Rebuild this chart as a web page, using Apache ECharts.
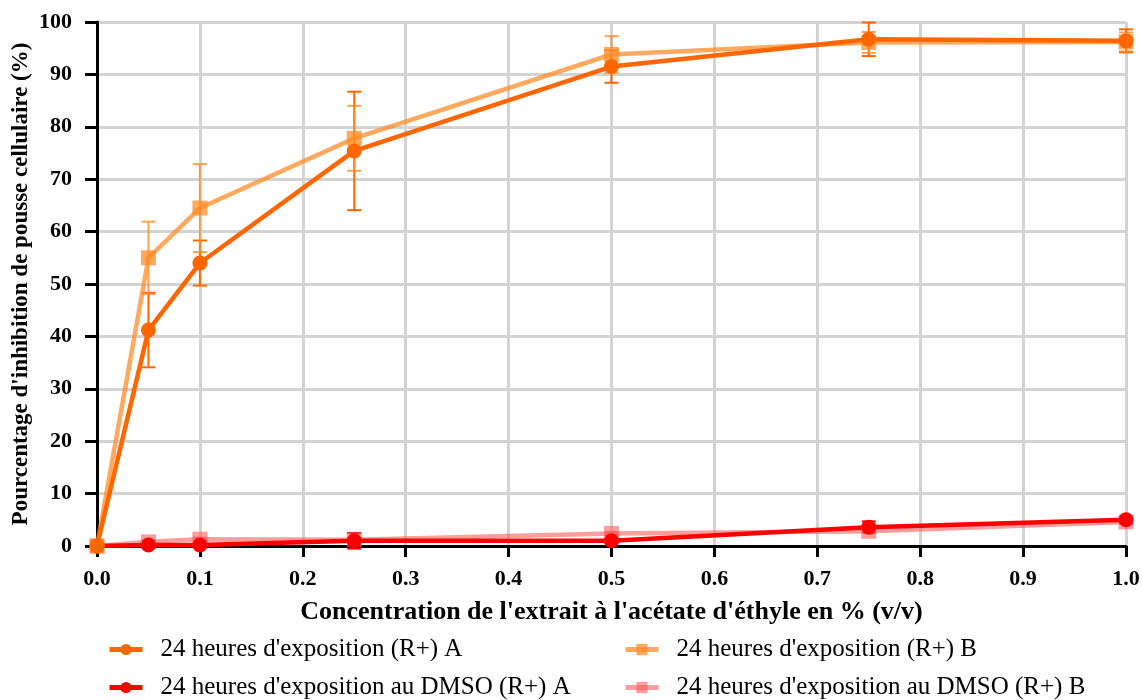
<!DOCTYPE html>
<html><head><meta charset="utf-8">
<script src="https://cdn.jsdelivr.net/npm/echarts@6/dist/echarts.min.js"></script>
<style>html,body{margin:0;padding:0;background:#fff}#c{width:1142px;height:700px}</style>
</head><body><div id="c"></div>
<script>
const xValues = [0, 0.05, 0.1, 0.25, 0.5, 0.75, 1.0];
const seriesNames = ["24 heures d'exposition (R+) A", "24 heures d'exposition (R+) B", "24 heures d'exposition au DMSO (R+) A", "24 heures d'exposition au DMSO (R+) B"];
const expA = [0, 41.2, 54.0, 75.4, 91.5, 96.7, 96.4];
const expAErr = [0, 7.1, 4.3, 11.3, 3.1, 3.2, 2.2];
const expB = [0, 55.0, 64.5, 77.8, 93.8, 96.1, 96.2];
const expBErr = [0, 6.9, 8.4, 6.2, 3.5, 2.0, 1.8];
const dmsoA = [0, 0.2, 0.2, 1.0, 1.0, 3.6, 5.0];
const dmsoAErr = [0, 0.3, 0.3, 1.5, 0.4, 1.1, 0.4];
const dmsoB = [0, 0.8, 1.3, 1.2, 2.4, 2.8, 4.6];
const dmsoBErr = [0, 0.3, 0.3, 0.3, 0.3, 0.3, 0.3];
const xTicks = [0, 0.1, 0.2, 0.3, 0.4, 0.5, 0.6, 0.7, 0.8, 0.9, 1.0];
const yTicks = [0, 10, 20, 30, 40, 50, 60, 70, 80, 90, 100];

const colors = ['#FF6600', 'rgba(255,140,40,0.75)', '#FF0000', 'rgba(255,90,90,0.6)'];
const errColors = ['#FF6600', 'rgba(255,140,40,0.8)', '#FF0000', 'rgba(255,90,90,0.7)'];
const symbols = ['circle', 'rect', 'circle', 'rect'];
const vals = [expA, expB, dmsoA, dmsoB];
const errs = [expAErr, expBErr, dmsoAErr, dmsoBErr];

function errSeries(i) {
  return {
    type: 'custom', name: seriesNames[i] + ' err', silent: true, z: 3,
    data: xValues.map((x, k) => [x, vals[i][k] - errs[i][k], vals[i][k] + errs[i][k]]),
    renderItem: function (params, api) {
      const lo = api.coord([api.value(0), api.value(1)]);
      const hi = api.coord([api.value(0), api.value(2)]);
      const hw = 7;
      const st = { stroke: errColors[i], lineWidth: 2 };
      return { type: 'group', children: [
        { type: 'line', shape: { x1: lo[0], y1: lo[1], x2: hi[0], y2: hi[1] }, style: st },
        { type: 'line', shape: { x1: lo[0] - hw, y1: lo[1], x2: lo[0] + hw, y2: lo[1] }, style: st },
        { type: 'line', shape: { x1: hi[0] - hw, y1: hi[1], x2: hi[0] + hw, y2: hi[1] }, style: st }
      ]};
    }
  };
}
function lineSeries(i) {
  return {
    type: 'line', name: seriesNames[i], z: 4,
    data: xValues.map((x, k) => [x, vals[i][k]]),
    symbol: symbols[i], symbolSize: 15, showAllSymbol: true,
    lineStyle: { color: colors[i], width: 4.5 },
    itemStyle: { color: colors[i] },
    emphasis: { disabled: true }
  };
}
const legendPos = [[107, 637], [623, 637], [107, 675], [623, 675]];
const legends = legendPos.map((p, i) => ({
  data: [seriesNames[i]], left: p[0], top: p[1], itemWidth: 33, itemHeight: 14, itemGap: 14, padding: 0,
  lineStyle: { width: 5 },
  textStyle: { fontFamily: 'Liberation Serif', fontSize: 25, color: '#000', padding: [0, 0, 0, 13] }
}));

const chart = echarts.init(document.getElementById('c'), null, { renderer: 'canvas' });
chart.setOption({
  animation: false,
  backgroundColor: '#fff',
  grid: { left: 97, right: 16, top: 22, bottom: 154, containLabel: false, outerBoundsMode: 'none' },
  legend: legends,
  xAxis: {
    type: 'value', min: 0, max: 1, interval: 0.1,
    name: "Concentration de l'extrait à l'acétate d'éthyle en % (v/v)",
    nameLocation: 'middle', nameGap: 53, nameMoveOverlap: false,
    nameTextStyle: { fontFamily: 'Liberation Serif', fontWeight: 'bold', fontSize: 26, color: '#000' },
    axisLine: { show: true, lineStyle: { color: '#000', width: 3 } },
    axisTick: { show: true, length: 11, lineStyle: { color: '#000', width: 3 } },
    axisLabel: { fontFamily: 'Liberation Serif', fontWeight: 'bold', fontSize: 22, color: '#000', margin: 22,
      formatter: v => Number(v).toFixed(1) },
    splitLine: { show: true, lineStyle: { color: '#d3d3d3', width: 3 } }
  },
  yAxis: {
    type: 'value', min: 0, max: 100, interval: 10,
    name: "Pourcentage d'inhibition de pousse cellulaire (%)",
    nameLocation: 'middle', nameGap: 64, nameRotate: 90, nameMoveOverlap: false,
    nameTextStyle: { fontFamily: 'Liberation Serif', fontWeight: 'bold', fontSize: 23, color: '#000' },
    axisLine: { show: true, lineStyle: { color: '#000', width: 3 } },
    axisTick: { show: true, length: 12, lineStyle: { color: '#000', width: 3 } },
    axisLabel: { fontFamily: 'Liberation Serif', fontWeight: 'bold', fontSize: 22, color: '#000', margin: 25 },
    splitLine: { show: true, lineStyle: { color: '#d3d3d3', width: 3 } }
  },
  series: [errSeries(0), errSeries(1), errSeries(2), errSeries(3),
           lineSeries(3), lineSeries(2), lineSeries(1), lineSeries(0)]
});
</script></body></html>
